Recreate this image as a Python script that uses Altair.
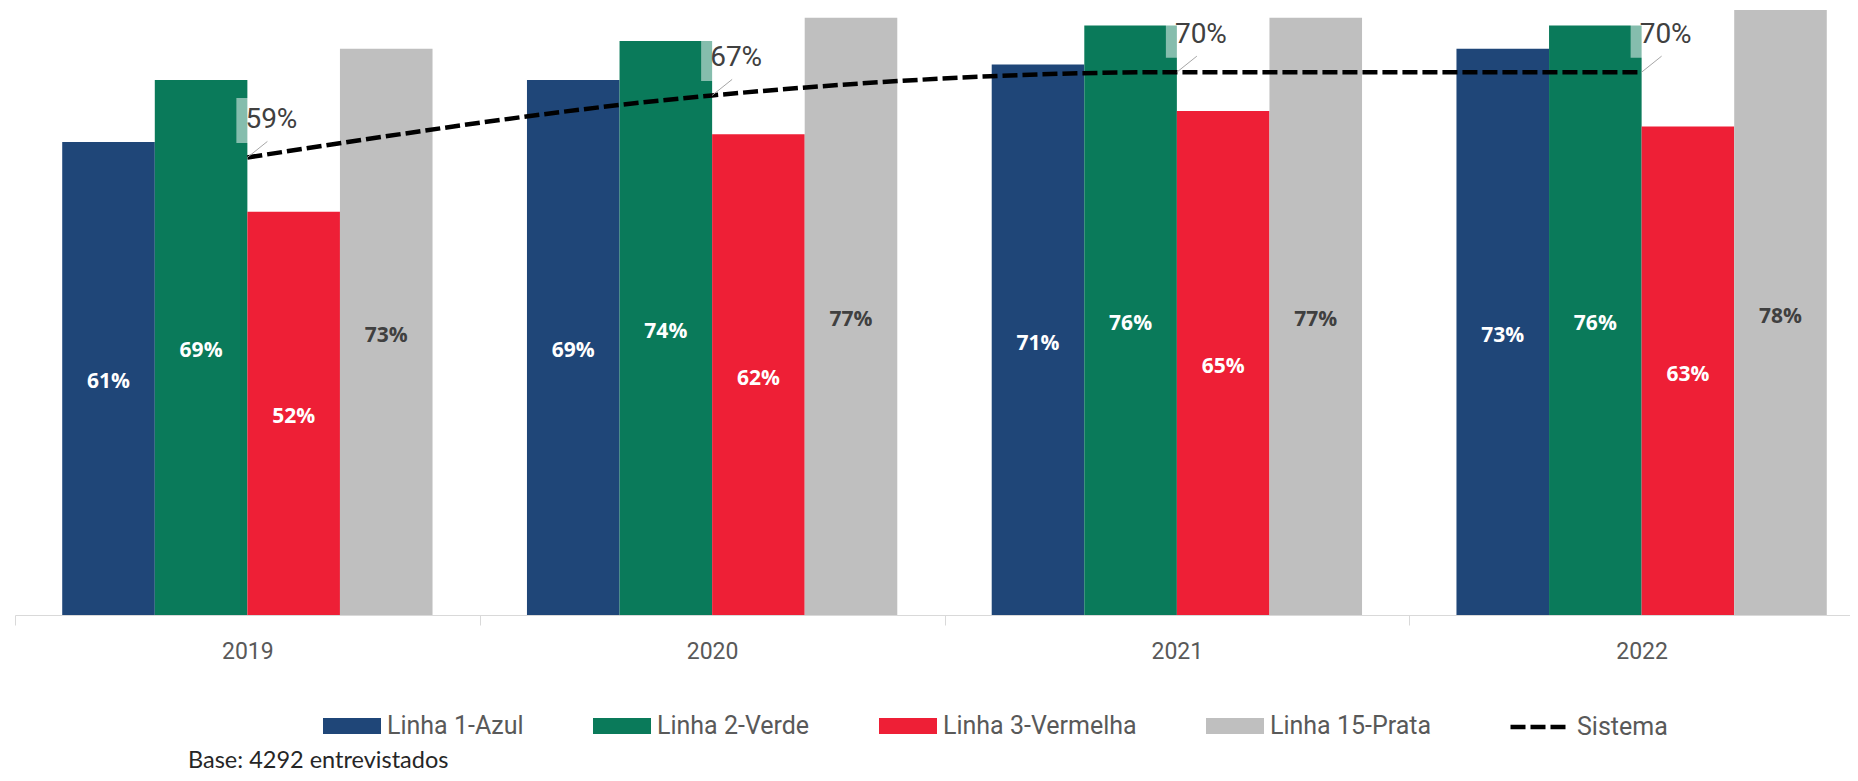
import altair as alt
import pandas as pd

anos = ["2019", "2020", "2021", "2022"]
series = ["Linha 1-Azul", "Linha 2-Verde", "Linha 3-Vermelha", "Linha 15-Prata"]
linha1 = [61, 69, 71, 73]
linha2 = [69, 74, 76, 76]
linha3 = [52, 62, 65, 63]
linha15 = [73, 77, 77, 78]
sistema = [59, 67, 70, 70]
cores = ["#1F4678", "#0A7A5A", "#EE1F36", "#BFBFBF"]
nota = "Base: 4292 entrevistados"

rows = []
for s, vals in zip(series, [linha1, linha2, linha3, linha15]):
    for a, v in zip(anos, vals):
        rows.append({"ano": a, "serie": s, "valor": v})
bars_df = pd.DataFrame(rows)
sis_df = pd.DataFrame({"ano": anos, "valor": sistema, "serie": ["Sistema"] * len(anos)})
nota_df = pd.DataFrame({"t": [nota]})

x_scale = alt.Scale(domain=anos, range=[0, 1859], paddingInner=0, paddingOuter=0)
y_scale = alt.Scale(domain=[0, 78.27], nice=False)

x_axis = alt.Axis(title=None, labelAngle=0, tickBand="extent", domainColor="#D9D9D9",
                  tickColor="#D9D9D9", tickSize=10, labelFont="Roboto", labelFontSize=23,
                  labelColor="#595959", labelPadding=15, grid=False)
x_enc = alt.X("ano:N", scale=x_scale, axis=x_axis)
y_val = alt.Y("valor:Q", scale=y_scale, axis=None)
xoff = alt.XOffset("serie:N", sort=series,
                   scale=alt.Scale(domain=series, paddingInner=0, paddingOuter=0.51))

color = alt.Color(
    "serie:N",
    scale=alt.Scale(domain=series, range=cores),
    legend=alt.Legend(title=None, orient="none", legendX=308, legendY=689,
                      direction="horizontal", symbolType="M-1,-0.276H1V0.276H-1Z",
                      symbolSize=3364, symbolStrokeWidth=0, labelFont="Roboto",
                      labelFontSize=25, labelColor="#595959", labelOffset=6,
                      columnPadding=69, labelLimit=600),
)

bars = alt.Chart(bars_df).mark_bar().encode(x=x_enc, xOffset=xoff, y=y_val, color=color)

labels = alt.Chart(bars_df).transform_calculate(
    meio="datum.valor / 2", rot="datum.valor + '%'"
).mark_text(font="Open Sans", fontWeight="bold", fontSize=21, dy=4).encode(
    x=x_enc,
    xOffset=xoff,
    y=alt.Y("meio:Q", scale=y_scale, axis=None),
    text="rot:N",
    color=alt.condition(alt.datum.serie == "Linha 15-Prata", alt.value("#404040"), alt.value("white")),
)

line = alt.Chart(sis_df).mark_line(color="black", strokeWidth=4.5, interpolate="monotone").encode(
    x=x_enc,
    y=y_val,
    strokeDash=alt.StrokeDash(
        "serie:N",
        scale=alt.Scale(domain=["Sistema"], range=[[15, 5]]),
        legend=alt.Legend(title=None, orient="none", legendX=1493, legendY=689,
                          symbolType="stroke", symbolSize=3025, symbolStrokeWidth=4.5,
                          symbolStrokeColor="black", labelFont="Roboto", labelFontSize=25,
                          labelColor="#595959", labelOffset=9, labelLimit=600),
    ),
)

caixa = alt.Chart(sis_df).mark_point(
    shape="M-1,-0.643H1V0.643H-1Z", size=4900, filled=True, color="white",
    opacity=0.5, strokeWidth=0, xOffset=24, yOffset=-37
).encode(x=x_enc, y=y_val)

guia = alt.Chart(sis_df).mark_point(
    shape="M0,0L1,-0.8", size=1600, filled=False, color="#A6A6A6", strokeWidth=1, opacity=1
).encode(x=x_enc, y=y_val)

rot_sis = alt.Chart(sis_df).transform_calculate(rot="datum.valor + '%'").mark_text(
    dx=24, dy=-37, font="Roboto", fontSize=28, color="#404040"
).encode(x=x_enc, y=y_val, text="rot:N")

base = alt.Chart(nota_df).mark_text(
    align="left", baseline="alphabetic", font="Lato", fontSize=23.5, color="#262626"
).encode(x=alt.value(173), y=alt.value(760), text="t:N")

chart = alt.layer(bars, labels, line, caixa, guia, rot_sis, base).properties(
    width=1835, height=607,
    autosize=alt.AutoSizeParams(type="none"),
    padding={"left": 7, "top": 0, "right": 0, "bottom": 158},
).configure_view(stroke=None)

chart.save("out.html", embed_options={"renderer": "svg", "actions": False})
